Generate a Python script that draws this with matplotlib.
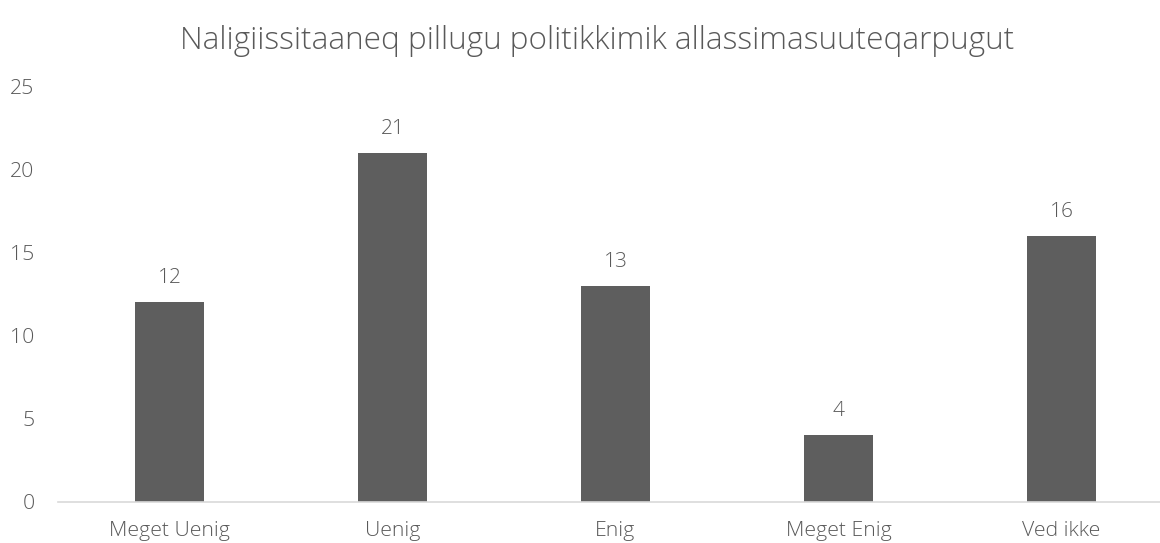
import matplotlib
matplotlib.use('Agg')
import matplotlib.pyplot as plt
import numpy as np

categories = ['Meget Uenig', 'Uenig', 'Enig', 'Meget Enig', 'Ved ikke']
values = [12, 21, 13, 4, 16]
yticks = [0, 5, 10, 15, 20, 25]
title = 'Naligiissitaaneq pillugu politikkimik allassimasuuteqarpugut'

plt.rcParams['font.family'] = ['Open Sans', 'DejaVu Sans']
txt = '#595959'

fig = plt.figure(figsize=(11.6, 5.43), dpi=100)
ax = fig.add_axes([58/1160, 41.3/543, 1115/1160, 415.5/543])

x = np.arange(len(categories))
bars = ax.bar(x, values, width=0.31, color='#5e5e5e', zorder=2)
for b, v in zip(bars, values):
    ax.text(b.get_x() + b.get_width()/2, v + 0.85, str(v), ha='center', va='bottom',
            fontsize=15, color=txt, fontweight='light')

ax.set_xlim(-0.5, len(categories) - 0.5)
ax.set_ylim(0, 25)
ax.set_yticks(yticks)
ax.set_xticks(x)
ax.set_xticklabels(categories)
for s in ['top', 'right', 'left']:
    ax.spines[s].set_visible(False)
ax.spines['bottom'].set_color('#d9d9d9')
ax.spines['bottom'].set_linewidth(1.2)
ax.tick_params(length=0, labelsize=15.3, labelcolor=txt)
ax.tick_params(axis='y', pad=17)
ax.tick_params(axis='x', pad=14)
for lab in ax.get_xticklabels() + ax.get_yticklabels():
    lab.set_fontweight('light')

fig.text(597.5/1160, 0.925, title, ha='center', va='center', fontsize=22.7, color=txt, fontweight='light')

fig.savefig('out.png', dpi=100)
